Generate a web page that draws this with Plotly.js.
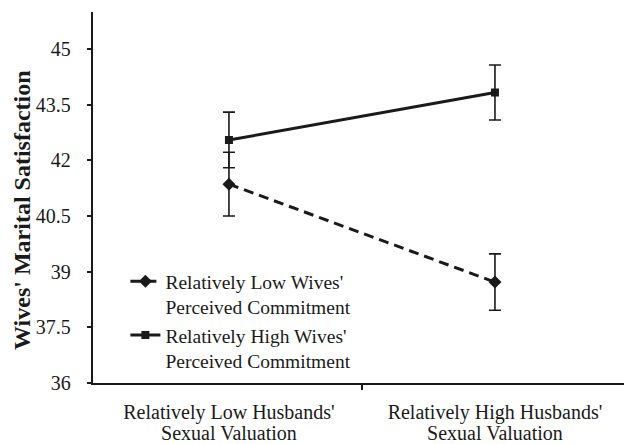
<!DOCTYPE html>
<html>
<head>
<meta charset="utf-8">
<script src="https://cdn.plot.ly/plotly-3.0.1.min.js"></script>
<style>html,body{margin:0;padding:0;background:#fff}#chart{width:625px;height:444px}</style>
</head>
<body>
<div id="chart"></div>
<script>
var categoryPositions = [0.5, 1.5];
var categoryLabelsLine1 = ["Relatively Low Husbands'", "Relatively High Husbands'"];
var categoryLabelsLine2 = ["Sexual Valuation", "Sexual Valuation"];
var lowCommitName = "Relatively Low Wives'<br>Perceived Commitment";
var highCommitName = "Relatively High Wives'<br>Perceived Commitment";
var lowCommitValues = [41.36, 38.72];
var lowCommitErrors = [0.86, 0.76];
var highCommitValues = [42.55, 43.83];
var highCommitErrors = [0.75, 0.74];
var yTickValues = [36, 37.5, 39, 40.5, 42, 43.5, 45];
var yTickLabels = ["36", "37.5", "39", "40.5", "42", "43.5", "45"];
var yTitle = "Wives' Marital Satisfaction";
var categoryBoundary = [1];

var serif = "'Liberation Serif', 'Times New Roman', serif";
var ink = "#1a1a1a";
var clear = "rgba(0,0,0,0)";
var xRange = [-0.011, 1.985];
var yRange = [36, 46];

var traces = [
  {
    x: categoryPositions, y: lowCommitValues, name: lowCommitName,
    type: "scatter", mode: "lines+markers",
    line: {color: ink, width: 3, dash: "10px,6px"},
    marker: {symbol: "diamond", size: 10, color: ink},
    error_y: {type: "data", array: lowCommitErrors, visible: true, color: ink, thickness: 1.6, width: 6}
  },
  {
    x: categoryPositions, y: highCommitValues, name: highCommitName,
    type: "scatter", mode: "lines+markers",
    line: {color: ink, width: 3},
    marker: {symbol: "square", size: 8, color: ink},
    error_y: {type: "data", array: highCommitErrors, visible: true, color: ink, thickness: 1.6, width: 6}
  },
  // carriers so the overlaying axes (boundary tick, second label line, visible y ticks) are drawn
  {x: categoryPositions, y: highCommitValues, xaxis: "x2", type: "scatter", mode: "none", showlegend: false, hoverinfo: "skip"},
  {x: categoryPositions, y: highCommitValues, xaxis: "x3", type: "scatter", mode: "none", showlegend: false, hoverinfo: "skip"},
  {x: categoryPositions, y: highCommitValues, yaxis: "y2", type: "scatter", mode: "none", showlegend: false, hoverinfo: "skip"}
];

var layout = {
  width: 625, height: 444,
  margin: {l: 93, r: 1, t: 12, b: 61},
  paper_bgcolor: "#fff", plot_bgcolor: "#fff",
  font: {family: serif, color: ink, size: 20},
  showlegend: true,
  legend: {
    x: 0.061, y: 0.326, xanchor: "left", yanchor: "top",
    bgcolor: clear, font: {family: serif, size: 19.5, color: ink},
    valign: "top", tracegroupgap: 0
  },
  xaxis: {
    range: xRange, tickvals: categoryPositions, ticktext: categoryLabelsLine1,
    ticks: "outside", ticklen: 10, tickcolor: clear, showline: true, linecolor: ink, linewidth: 2.2,
    showgrid: false, zeroline: false,
    tickfont: {family: serif, size: 20, color: ink}
  },
  xaxis2: {
    overlaying: "x", anchor: "y", side: "bottom", range: xRange,
    tickvals: categoryBoundary, ticks: "outside", ticklen: 6, tickwidth: 2, tickcolor: ink,
    showticklabels: false, showline: false, showgrid: false, zeroline: false
  },
  xaxis3: {
    overlaying: "x", anchor: "y", side: "bottom", range: xRange,
    tickvals: categoryPositions, ticktext: categoryLabelsLine2,
    ticks: "outside", ticklen: 32, tickcolor: clear,
    showline: false, showgrid: false, zeroline: false,
    tickfont: {family: serif, size: 20, color: ink}
  },
  yaxis: {
    range: yRange, tickvals: yTickValues, ticktext: yTickLabels,
    ticks: "outside", ticklen: 16, tickcolor: clear,
    showline: true, linecolor: ink, linewidth: 2.2,
    showgrid: false, zeroline: false,
    tickfont: {family: serif, size: 20, color: ink}
  },
  yaxis2: {
    overlaying: "y", anchor: "x", side: "left", range: yRange, tickvals: yTickValues,
    ticks: "outside", ticklen: 5, tickwidth: 2, tickcolor: ink,
    showticklabels: false, showline: false, showgrid: false, zeroline: false
  },
  annotations: [{
    text: "<b>" + yTitle + "</b>", textangle: -90,
    xref: "paper", yref: "paper", x: -0.134, y: 0.466,
    xanchor: "center", yanchor: "middle", showarrow: false,
    font: {family: serif, size: 24, color: ink}
  }]
};

Plotly.newPlot("chart", traces, layout, {displayModeBar: false, staticPlot: true});
</script>
</body>
</html>
